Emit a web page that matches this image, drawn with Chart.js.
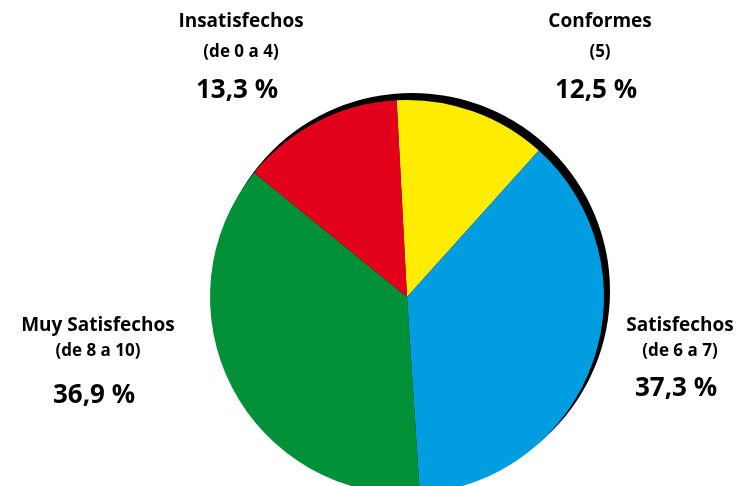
<!DOCTYPE html>
<html>
<head>
<meta charset="utf-8">
<script src="https://cdn.jsdelivr.net/npm/chart.js@4"></script>
<style>
  html, body { margin: 0; padding: 0; background: #fff; overflow: hidden; }
  #wrap { width: 739px; height: 486px; overflow: hidden; position: relative; }
</style>
</head>
<body>
<div id="wrap"><canvas id="pie" width="739" height="600"></canvas></div>
<script>
// categorías en el orden del giro (empezando arriba)
const categories = ['Conformes', 'Satisfechos', 'Muy Satisfechos', 'Insatisfechos'];
const ranges = ['(5)', '(de 6 a 7)', '(de 8 a 10)', '(de 0 a 4)'];
const values = [12.5, 37.3, 36.9, 13.3];
const colors = ['#ffec00', '#009ee0', '#009037', '#e3001b'];

// dónde va cada rótulo: [x, y línea 1, y línea 2, y del %]
const labelPos = [
  [600, 22, 52, 91],
  [680, 326, 351, 389],
  [98, 326, 351, 396],
  [241, 22, 52, 91],
];

const fmt = (v) => v.toFixed(1).replace('.', ',') + ' %';

// sombra negra desplazada arriba-derecha detrás del pastel
const shadow = {
  id: 'shadow',
  beforeDatasetsDraw(chart) {
    const arc = chart.getDatasetMeta(0).data[0];
    const { ctx } = chart;
    ctx.save();
    ctx.fillStyle = '#000';
    ctx.beginPath();
    ctx.arc(arc.x + 5, arc.y - 6, arc.outerRadius + 1, 0, Math.PI * 2);
    ctx.fill();
    ctx.restore();
  },
};

const labels = {
  id: 'labels',
  afterDraw(chart) {
    const { ctx } = chart;
    ctx.save();
    ctx.fillStyle = '#000';
    ctx.textAlign = 'center';
    ctx.textBaseline = 'middle';
    categories.forEach((name, i) => {
      const [x, y1, y2, y3] = labelPos[i];
      ctx.font = 'bold 19px "Open Sans"';
      ctx.fillText(name, x, y1);
      ctx.font = 'bold 17px "Open Sans"';
      ctx.fillText(ranges[i], x, y2);
      ctx.font = 'bold 26px "Open Sans"';
      ctx.fillText(fmt(values[i]), x - 4, y3);
    });
    ctx.restore();
  },
};

new Chart(document.getElementById('pie'), {
  type: 'pie',
  data: {
    labels: categories,
    datasets: [{
      data: values,
      backgroundColor: colors,
      borderWidth: 0,
    }],
  },
  options: {
    responsive: false,
    animation: false,
    rotation: -3,
    layout: { padding: { left: 210, right: 135, top: 100, bottom: 106 } },
    plugins: { legend: { display: false }, tooltip: { enabled: false } },
  },
  plugins: [shadow, labels],
});
</script>
</body>
</html>
